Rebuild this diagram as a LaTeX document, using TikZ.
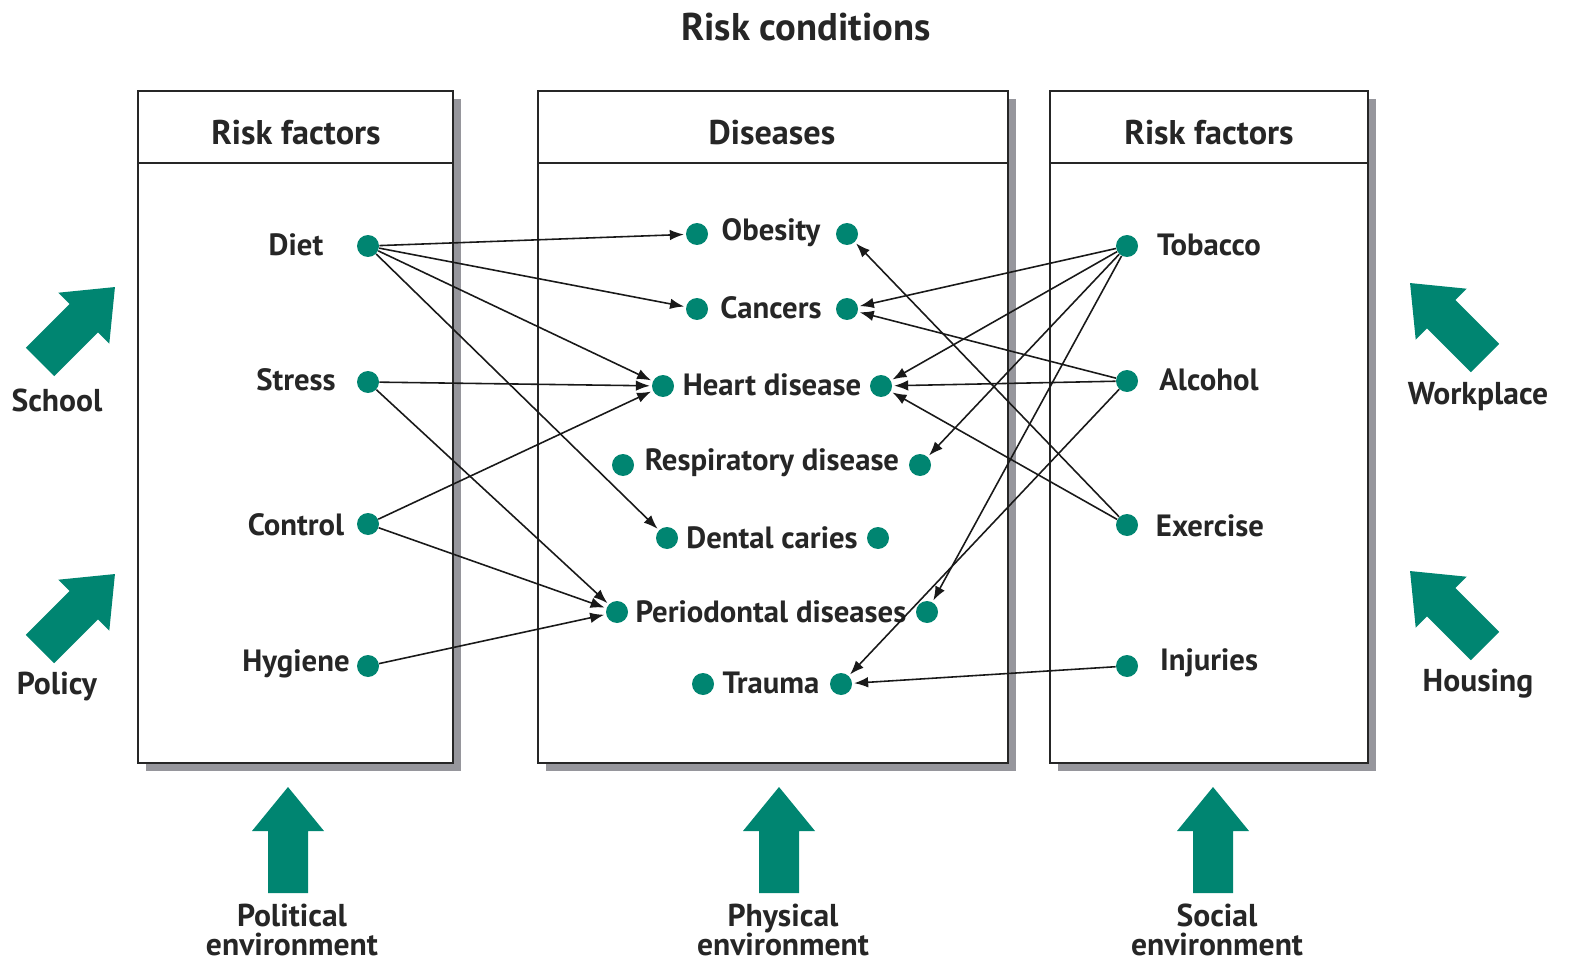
\documentclass[tikz,border=0pt]{standalone}
\usepackage{fontspec}
\setmainfont{PT Sans}
\usetikzlibrary{arrows.meta}
\definecolor{whogreen}{RGB}{0,133,113}
\definecolor{shadowgray}{RGB}{150,150,156}
\tikzset{
    mydot/.style = {circle, fill=whogreen, inner sep=0pt, minimum size=0.44cm},
    mylabel/.style = {inner sep=1pt, font=\bfseries\fontsize{17.5}{20}\selectfont, text=black!85},
    myhead/.style = {inner sep=1pt, font=\bfseries\fontsize{19.5}{22}\selectfont, text=black!85},
    mytitle/.style = {inner sep=1pt, font=\bfseries\fontsize{22}{25}\selectfont, text=black!85},
    myenv/.style = {inner sep=1pt, align=center, font=\bfseries\fontsize{18}{16.5}\selectfont, text=black!85},
    boxline/.style = {line width=1.3pt, draw=black!85},
    edgea/.style = {-{Latex[length=8pt,width=6pt]}, line width=0.9pt, black!90, shorten >=1pt},
    envarrow/.pic = {\fill[whogreen] (0,-20) -- (62,-20) -- (62,-36) -- (106,0) -- (62,36) -- (62,20) -- (0,20) -- cycle;}
}
\begin{document}
\begin{tikzpicture}[x=0.02cm, y=-0.02cm]
  \useasboundingbox (0,0) rectangle (1581,969);
  \node[mytitle] (title) at (806,27) {Risk conditions};

  % boxes with shadow
  \fill[shadowgray] (146,99) rectangle (461,771);
  \draw[boxline, fill=white] (138,91) rectangle (453,763);
  \draw[boxline] (138,163) -- (453,163);
  \fill[shadowgray] (546,99) rectangle (1016,771);
  \draw[boxline, fill=white] (538,91) rectangle (1008,763);
  \draw[boxline] (538,163) -- (1008,163);
  \fill[shadowgray] (1058,99) rectangle (1376,771);
  \draw[boxline, fill=white] (1050,91) rectangle (1368,763);
  \draw[boxline] (1050,163) -- (1368,163);

  \node[myhead] (headl) at (296,133) {Risk factors};
  \node[myhead] (headm) at (772,133) {Diseases};
  \node[myhead] (headr) at (1209,133) {Risk factors};

  % left risk factors
  \node[mylabel] (dietlab) at (296,245) {Diet};
  \node[mydot] (diet) at (368,246) {};
  \node[mylabel] (stresslab) at (296,380) {Stress};
  \node[mydot] (stress) at (368,382) {};
  \node[mylabel] (controllab) at (296,525) {Control};
  \node[mydot] (control) at (368,524) {};
  \node[mylabel] (hygienelab) at (296,664) {Hygiene};
  \node[mydot] (hygiene) at (368,666) {};

  % diseases
  \node[mylabel] (obesitylab) at (771,233) {Obesity};
  \node[mydot] (obesityl) at (697,234) {};
  \node[mydot] (obesityr) at (847,234) {};
  \node[mylabel] (cancerslab) at (771,308) {Cancers};
  \node[mydot] (cancersl) at (697,309) {};
  \node[mydot] (cancersr) at (847,309) {};
  \node[mylabel] (heartlab) at (772,385) {Heart disease};
  \node[mydot] (heartl) at (663,386) {};
  \node[mydot] (heartr) at (881,386) {};
  \node[mylabel] (resplab) at (772,463) {Respiratory disease};
  \node[mydot] (respl) at (623,465) {};
  \node[mydot] (respr) at (920,465) {};
  \node[mylabel] (dentallab) at (772,538) {Dental caries};
  \node[mydot] (dentall) at (667,538) {};
  \node[mydot] (dentalr) at (878,538) {};
  \node[mylabel] (periolab) at (771,612) {Periodontal diseases};
  \node[mydot] (periol) at (617,612) {};
  \node[mydot] (perior) at (927,612) {};
  \node[mylabel] (traumalab) at (771,683) {Trauma};
  \node[mydot] (traumal) at (703,684) {};
  \node[mydot] (traumar) at (841,684) {};

  % right risk factors
  \node[mylabel] (tobaccolab) at (1209,245) {Tobacco};
  \node[mydot] (tobacco) at (1127,246) {};
  \node[mylabel] (alcohollab) at (1209,380) {Alcohol};
  \node[mydot] (alcohol) at (1127,381) {};
  \node[mylabel] (exerciselab) at (1210,526) {Exercise};
  \node[mydot] (exercise) at (1127,525) {};
  \node[mylabel] (injurieslab) at (1209,663) {Injuries};
  \node[mydot] (injuries) at (1127,666) {};

  % links
  \draw[edgea] (diet) -- (obesityl);
  \draw[edgea] (diet) -- (cancersl);
  \draw[edgea] (diet) -- (heartl);
  \draw[edgea] (diet) -- (dentall);
  \draw[edgea] (stress) -- (heartl);
  \draw[edgea] (stress) -- (periol);
  \draw[edgea] (control) -- (heartl);
  \draw[edgea] (control) -- (periol);
  \draw[edgea] (hygiene) -- (periol);
  \draw[edgea] (tobacco) -- (cancersr);
  \draw[edgea] (tobacco) -- (heartr);
  \draw[edgea] (tobacco) -- (respr);
  \draw[edgea] (tobacco) -- (perior);
  \draw[edgea] (alcohol) -- (cancersr);
  \draw[edgea] (alcohol) -- (heartr);
  \draw[edgea] (alcohol) -- (traumar);
  \draw[edgea] (exercise) -- (obesityr);
  \draw[edgea] (exercise) -- (heartr);
  \draw[edgea] (injuries) -- (traumar);

  % environments
  \pic[rotate=45] at (40,362) {envarrow};
  \pic[rotate=45] at (40,649) {envarrow};
  \pic[rotate=135] at (1485,358) {envarrow};
  \pic[rotate=135] at (1485,646) {envarrow};
  \pic[rotate=90] at (288,893) {envarrow};
  \pic[rotate=90] at (779,893) {envarrow};
  \pic[rotate=90] at (1213,893) {envarrow};
  \node[myenv] (school) at (57,400) {School};
  \node[myenv] (policy) at (57,686) {Policy};
  \node[myenv] (workplace) at (1478,397) {Workplace};
  \node[myenv] (housing) at (1478,684) {Housing};
  \node[myenv] (political) at (292,930) {Political\\environment};
  \node[myenv] (physical) at (783,930) {Physical\\environment};
  \node[myenv] (social) at (1217,930) {Social\\environment};
\end{tikzpicture}
\end{document}
